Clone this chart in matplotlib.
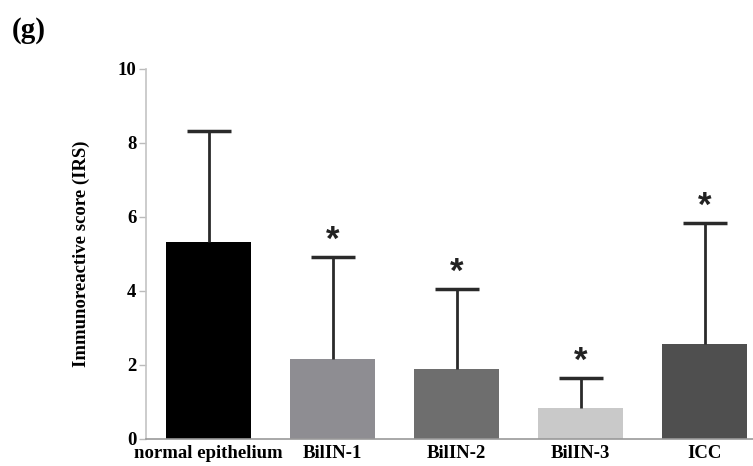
import matplotlib

matplotlib.use("Agg")
import matplotlib.pyplot as plt

categories = ["normal epithelium", "BilIN-1", "BilIN-2", "BilIN-3", "ICC"]
means = [5.32, 2.16, 1.89, 0.84, 2.57]
upper_err = [3.00, 2.77, 2.16, 0.81, 3.27]
significant = [False, True, True, True, True]
bar_colors = ["#000000", "#8e8d92", "#6e6e6e", "#c9c9c9", "#4f4f4f"]
y_ticks = [0, 2, 4, 6, 8, 10]

plt.rcParams["font.family"] = ["Liberation Serif", "DejaVu Serif"]
plt.rcParams["font.weight"] = "bold"

fig = plt.figure(figsize=(7.53, 4.66), dpi=100)
ax = fig.add_axes([0.194, 0.058, 0.806, 0.794])

x = list(range(len(categories)))
tops = [m + e for m, e in zip(means, upper_err)]
ax.bar(x, means, width=0.69, color=bar_colors, zorder=2)
# upper-only error bars: stem plus cap
ax.vlines(x, means, tops, color="#2a2a2a", linewidth=2, zorder=3)
ax.plot(x, tops, linestyle="none", marker="_", markersize=31,
        markeredgewidth=2.5, color="#2a2a2a", zorder=3)
for xi, t, sig in zip(x, tops, significant):
    if sig:
        ax.annotate("*", (xi, t), xytext=(0, 12), textcoords="offset points",
                    ha="center", va="center", fontsize=25, color="#222222",
                    family="Liberation Sans", fontweight="bold")

ax.set_xlim(-0.505, 4.39)
ax.set_ylim(0, 10)
ax.set_yticks(y_ticks)
ax.set_yticklabels([str(t) for t in y_ticks], fontsize=13.5)
ax.set_xticks(x)
ax.set_xticklabels(categories, fontsize=13.5)
ax.tick_params(axis="x", length=0, pad=4)
ax.tick_params(axis="y", length=5, color="#bbbbbb", width=1, pad=2)
ax.set_ylabel("Immunoreactive score (IRS)", fontsize=13.5, fontweight="bold",
              labelpad=20)

for side in ("top", "right"):
    ax.spines[side].set_visible(False)
ax.spines["left"].set_color("#c4c4c4")
ax.spines["left"].set_linewidth(1.2)
ax.spines["bottom"].set_color("#999999")
ax.spines["bottom"].set_linestyle((0, (1, 1)))
ax.spines["bottom"].set_linewidth(1.2)

fig.text(0.015, 0.92, "(g)", fontsize=21, fontweight="bold")

fig.savefig("out.png", dpi=100)
